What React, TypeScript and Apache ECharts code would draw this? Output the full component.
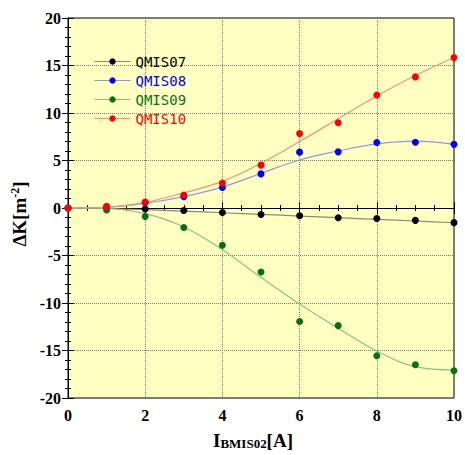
import React, { useEffect, useRef } from "react";
import * as echarts from "echarts";

// Measured currents [A]
const currents = [0, 1, 2, 3, 4, 5, 6, 7, 8, 9, 10];
// Measured ΔK points
const q07 = [0, 0.0, -0.1, -0.27, -0.48, -0.69, -0.82, -1.03, -1.1, -1.3, -1.54];
const q08 = [0, 0.1, 0.55, 1.2, 2.15, 3.59, 5.88, 5.91, 6.9, 6.93, 6.7];
const q09 = [0, -0.2, -0.89, -2.05, -3.93, -6.74, -11.94, -12.38, -15.56, -16.5, -17.13];
const q10 = [0, 0.17, 0.62, 1.37, 2.63, 4.51, 7.83, 8.98, 11.9, 13.8, 15.83];
// Fitted curves
const fitX = [0, 1, 2, 3, 4, 5, 6, 7, 8, 9, 10];
const fit07 = [0, -0.05, -0.17, -0.33, -0.5, -0.67, -0.85, -1.02, -1.2, -1.37, -1.55];
const fit08 = [0, 0.08, 0.5, 1.2, 2.2, 3.65, 5.05, 6.0, 6.75, 7.05, 6.7];
const fit09 = [0, -0.05, -0.6, -2.0, -4.4, -7.3, -10.1, -12.65, -15.05, -16.7, -17.05];
const fit10 = [0, 0.08, 0.6, 1.6, 2.8, 4.7, 7.0, 9.4, 11.8, 13.95, 15.85];

const names = ["QMIS07", "QMIS08", "QMIS09", "QMIS10"];
const pointColors = ["#000000", "#0000ff", "#0b6e14", "#ff0000"];
const fitColors = ["#8a8a78", "#8c9ae6", "#86c486", "#f59080"];
const pointSets = [q07, q08, q09, q10];
const fitSets = [fit07, fit08, fit09, fit10];

const serif = "Liberation Serif";

export default function App() {
  const ref = useRef<HTMLDivElement>(null);
  useEffect(() => {
    const chart = echarts.init(ref.current!, null, { renderer: "svg" });
    const fitSeries = fitSets.map((f, i) => ({
      name: names[i] + " fit",
      type: "line",
      smooth: 0.4,
      showSymbol: false,
      symbol: "none",
      data: fitX.map((x, k) => [x, f[k]]),
      lineStyle: { color: fitColors[i], width: 1.2 },
      z: 2,
      silent: true,
    }));
    const pointSeries = pointSets.map((p, i) => ({
      name: names[i],
      type: "line",
      symbol: "circle",
      symbolSize: 7,
      showSymbol: true,
      data: currents.map((x, k) => [x, p[k]]),
      lineStyle: { opacity: 0, color: fitColors[i] },
      itemStyle: { color: pointColors[i] },
      z: 3,
    }));
    const tickCommon = { inside: true, length: 6, lineStyle: { color: "#000" } };
    const minorCommon = { show: true, length: 3, lineStyle: { color: "#000" } };
    const numStyle = {
      fontFamily: serif,
      fontWeight: "bold" as const,
      fontSize: 16,
      color: "#000",
    };
    chart.setOption({
      animation: false,
      backgroundColor: "#ffffff",
      textStyle: { fontFamily: serif, fontWeight: "bold" },
      grid: {
        left: 68,
        right: 7,
        top: 18,
        bottom: 47,
        show: true,
        backgroundColor: "#ffffc2",
        borderColor: "#000",
        borderWidth: 1,
      },
      legend: {
        orient: "vertical",
        left: 89,
        top: 49,
        itemWidth: 36,
        itemHeight: 8,
        itemGap: 4,
        selectedMode: false,
        textStyle: { fontFamily: "DejaVu Sans Mono", fontWeight: "normal", fontSize: 14, lineHeight: 15 },
        data: names.map((n, i) => ({
          name: n,
          textStyle: { color: pointColors[i], fontFamily: "DejaVu Sans Mono", fontWeight: "normal" },
          itemStyle: { color: pointColors[i] },
          lineStyle: { color: fitColors[i], width: 1, opacity: 1 },
        })),
      },
      xAxis: [
        {
          type: "value",
          min: 0,
          max: 10,
          interval: 2,
          position: "bottom",
          axisLine: { show: true, lineStyle: { color: "#000" } },
          axisTick: tickCommon,
          minorTick: { ...minorCommon, splitNumber: 4 },
          splitLine: { show: true, lineStyle: { color: "#7a7a6a", type: [1, 1], width: 1 } },
          axisLabel: {
            ...numStyle,
            margin: 9,
            formatter: "{n|{value}}",
            rich: { n: { ...numStyle } },
          },
          name: "I{sub|BMIS02}[A]",
          nameLocation: "middle",
          nameGap: 32,
          nameTextStyle: {
            fontFamily: serif,
            fontWeight: "bold",
            fontSize: 19,
            color: "#000",
            padding: [0, 16, 0, 0],
            rich: {
              sub: { fontFamily: serif, fontWeight: "bold", fontSize: 13, verticalAlign: "bottom", padding: [7, 0, 0, 0] },
            },
          },
        },
        {
          type: "value",
          min: 0,
          max: 10,
          interval: 2,
          position: "top",
          axisLine: { show: true, lineStyle: { color: "#000" } },
          axisTick: tickCommon,
          minorTick: { ...minorCommon, splitNumber: 4 },
          splitLine: { show: false },
          axisLabel: { show: false },
        },
      ],
      yAxis: [
        {
          type: "value",
          min: -20,
          max: 20,
          interval: 5,
          position: "left",
          axisLine: { show: true, lineStyle: { color: "#000" } },
          axisTick: tickCommon,
          minorTick: { ...minorCommon, splitNumber: 5 },
          splitLine: { show: true, lineStyle: { color: "#7a7a6a", type: [1, 1], width: 1 } },
          axisLabel: {
            ...numStyle,
            margin: 7,
            formatter: "{n|{value}}",
            rich: { n: { ...numStyle } },
          },
          name: "ΔK[m{sup|-2}]",
          nameLocation: "middle",
          nameGap: 18,
          nameRotate: 90,
          nameTextStyle: {
            fontFamily: serif,
            fontWeight: "bold",
            fontSize: 19,
            color: "#000",
            padding: [0, 12, 0, 0],
            rich: {
              sup: { fontFamily: serif, fontWeight: "bold", fontSize: 12, verticalAlign: "top", padding: [0, 0, 8, 0] },
            },
          },
        },
        {
          type: "value",
          min: -20,
          max: 20,
          interval: 5,
          position: "right",
          axisLine: { show: true, lineStyle: { color: "#000" } },
          axisTick: tickCommon,
          minorTick: { ...minorCommon, splitNumber: 5 },
          splitLine: { show: false },
          axisLabel: { show: false },
        },
      ],
      series: [...fitSeries, ...pointSeries],
    });
    return () => chart.dispose();
  }, []);
  return (
    <div
      ref={ref}
      style={{ position: "absolute", left: 0, top: 0, width: 465, height: 455 }}
    />
  );
}
